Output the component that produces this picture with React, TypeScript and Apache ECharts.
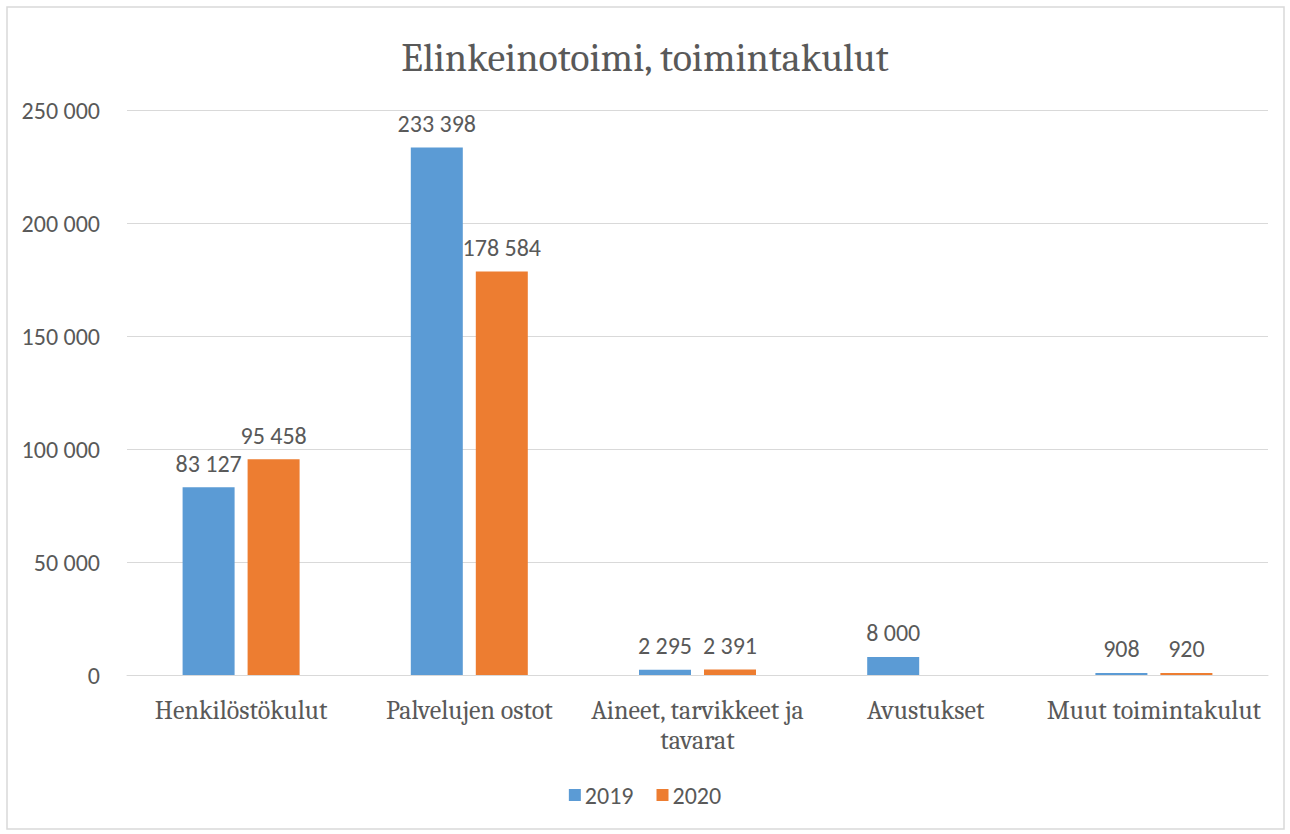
import React, { useEffect, useRef } from "react";
import * as echarts from "echarts";

const categories = [
  "Henkilöstökulut",
  "Palvelujen ostot",
  "Aineet, tarvikkeet ja\ntavarat",
  "Avustukset",
  "Muut toimintakulut",
];
const values2019 = [83127, 233398, 2295, 8000, 908];
const values2020: (number | null)[] = [95458, 178584, 2391, null, 920];
const seriesNames = ["2019", "2020"];
const yTicks = { min: 0, max: 250000, interval: 50000 };

const fmt = (v: number) =>
  String(Math.round(v)).replace(/\B(?=(\d{3})+(?!\d))/g, " ");

const SERIF = "Cambria, Caladea, 'DejaVu Serif', 'Liberation Serif', serif";
const SANS = "Calibri, Carlito, 'Liberation Sans Narrow', 'Liberation Sans', sans-serif";
const TXT = "#595959";

export default function App() {
  const ref = useRef<HTMLDivElement>(null);
  useEffect(() => {
    const chart = echarts.init(ref.current!, null, { renderer: "svg" });
    const label = {
      show: true,
      position: "top" as const,
      distance: 12,
      color: TXT,
      fontFamily: SANS,
      fontSize: 24,
      formatter: (p: any) => (p.value == null ? "" : fmt(p.value)),
    };
    chart.setOption({
      animation: false,
      backgroundColor: "#fff",
      title: {
        text: "Elinkeinotoimi, toimintakulut",
        left: "center",
        top: 33,
        textStyle: {
          fontFamily: SERIF,
          fontSize: 40,
          fontWeight: "normal",
          color: TXT,
        },
      },
      legend: {
        data: seriesNames,
        bottom: 22,
        left: "center",
        itemWidth: 12,
        itemHeight: 12,
        itemGap: 23,
        icon: "rect",
        textStyle: { fontFamily: SANS, fontSize: 24, color: TXT, padding: [0, 0, 0, -1] },
      },
      grid: { left: 127, right: 22, top: 110, bottom: 159 },
      xAxis: {
        type: "category",
        data: categories,
        axisLine: { lineStyle: { color: "#d9d9d9", width: 1 } },
        axisTick: { show: false },
        axisLabel: {
          fontFamily: SERIF,
          fontSize: 26,
          color: TXT,
          margin: 21,
          lineHeight: 30,
          interval: 0,
        },
      },
      yAxis: {
        type: "value",
        min: yTicks.min,
        max: yTicks.max,
        interval: yTicks.interval,
        axisLine: { show: false },
        axisTick: { show: false },
        splitLine: { lineStyle: { color: "#d9d9d9", width: 1 } },
        axisLabel: {
          fontFamily: SANS,
          fontSize: 24,
          color: TXT,
          margin: 27,
          formatter: (v: number) => fmt(v),
        },
      },
      series: [
        {
          name: seriesNames[0],
          type: "bar",
          data: values2019,
          barWidth: 52,
          barGap: "25%",
          itemStyle: { color: "#5b9bd5" },
          label,
        },
        {
          name: seriesNames[1],
          type: "bar",
          data: values2020,
          barWidth: 52,
          barGap: "25%",
          itemStyle: { color: "#ed7d31" },
          label,
        },
      ],
      graphic: [
        {
          type: "rect",
          shape: { x: 7, y: 7, width: 1277, height: 822 },
          style: { fill: "none", stroke: "#d9d9d9", lineWidth: 1.5 },
          silent: true,
        },
      ],
    });
    return () => chart.dispose();
  }, []);
  return (
    <div
      ref={ref}
      style={{ position: "absolute", left: 0, top: 0, width: 1290, height: 834 }}
    />
  );
}
